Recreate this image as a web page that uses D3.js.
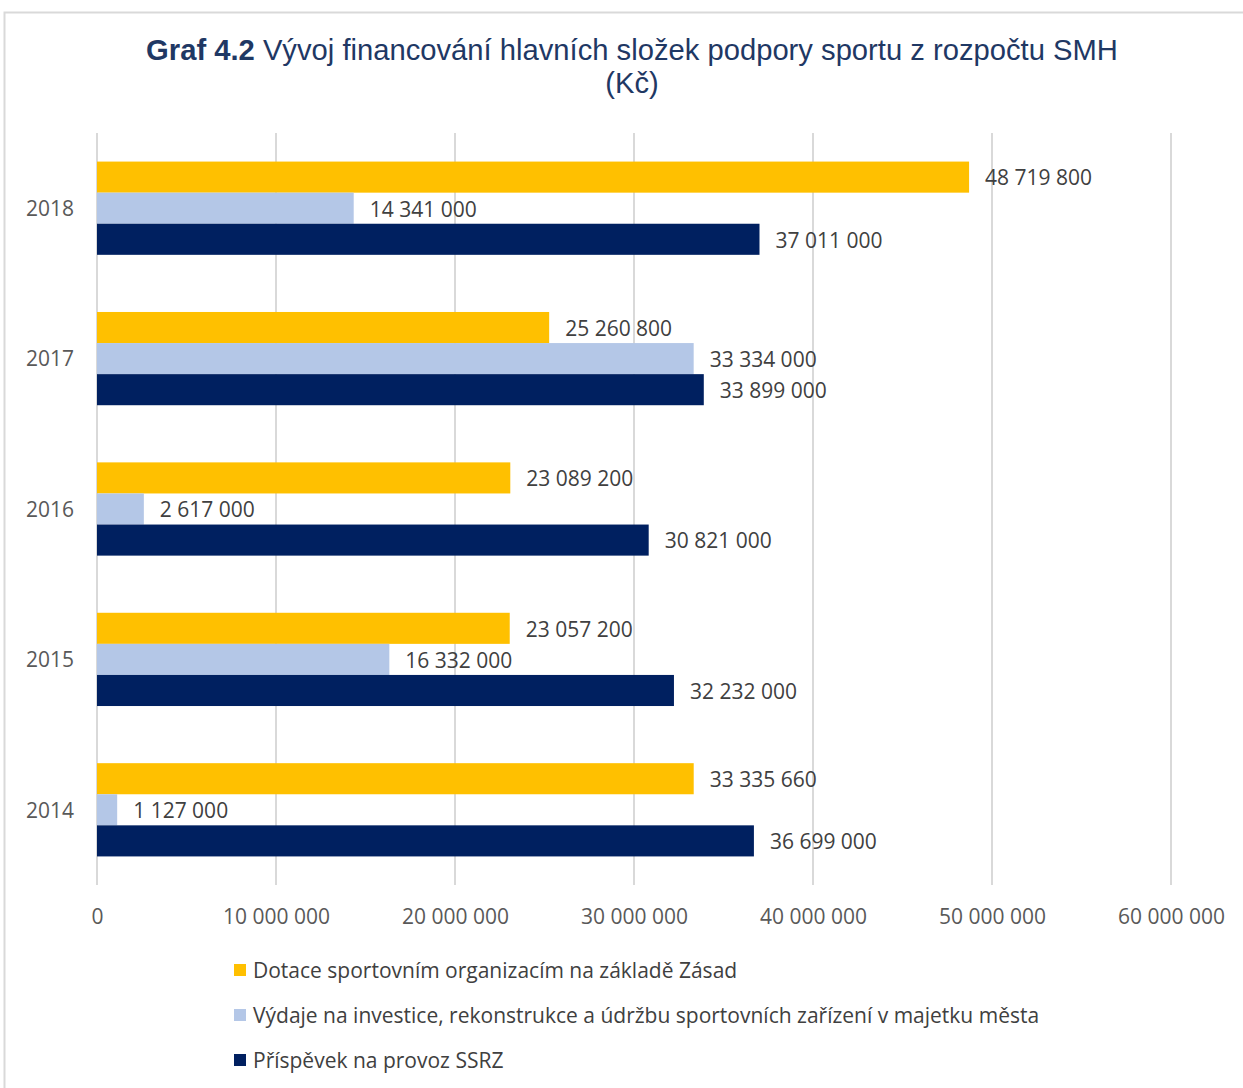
<!DOCTYPE html>
<html>
<head>
<meta charset="utf-8">
<script src="https://cdn.jsdelivr.net/npm/d3@7"></script>
<style>
  body { margin: 0; background: #fff; }
  svg { display: block; }
</style>
</head>
<body>
<div id="chart"></div>
<script>
// Données
const years = ["2018", "2017", "2016", "2015", "2014"];
const seriesNames = [
  "Dotace sportovním organizacím na základě Zásad",
  "Výdaje na investice, rekonstrukce a údržbu sportovních zařízení v majetku města",
  "Příspěvek na provoz SSRZ"
];
const dotace = [48719800, 25260800, 23089200, 23057200, 33335660];
const vydaje = [14341000, 33334000, 2617000, 16332000, 1127000];
const prispevek = [37011000, 33899000, 30821000, 32232000, 36699000];
const xTicks = [0, 10000000, 20000000, 30000000, 40000000, 50000000, 60000000];
const colors = ["#FFC000", "#B4C7E7", "#002060"];

const width = 1243;
const height = 1088;
const fontLabel = "'Open Sans', sans-serif";
const sizeLabel = "21px";

const svg = d3.select("#chart").append("svg")
  .attr("width", width)
  .attr("height", height);

// cadre
svg.append("rect")
  .attr("x", 4.5).attr("y", 12.5)
  .attr("width", width + 10).attr("height", height + 10)
  .attr("fill", "none")
  .attr("stroke", "#d9d9d9")
  .attr("stroke-width", 2);

// Titre
const title = svg.append("text")
  .attr("x", 632).attr("y", 60)
  .attr("text-anchor", "middle")
  .style("font-family", "'Liberation Sans', Arial, sans-serif")
  .style("font-size", "29.2px")
  .style("fill", "#1F3864");
title.append("tspan").style("font-weight", "bold").text("Graf 4.2");
title.append("tspan").text(" Vývoj financování hlavních složek podpory sportu z rozpočtu SMH");
svg.append("text")
  .attr("x", 632).attr("y", 93)
  .attr("text-anchor", "middle")
  .style("font-family", "'Liberation Sans', Arial, sans-serif")
  .style("font-size", "29.2px")
  .style("fill", "#1F3864")
  .text("(Kč)");

// Echelles
const x = d3.scaleLinear().domain([0, 60000000]).range([97, 1171]);
const y = d3.scaleBand().domain(years).range([133, 885]).paddingInner(0.38).paddingOuter(0.19);
const ySub = d3.scaleBand().domain([0, 1, 2]).range([0, y.bandwidth()]);

// Grille
svg.append("g")
  .selectAll("line")
  .data(xTicks)
  .join("line")
  .attr("x1", d => x(d)).attr("x2", d => x(d))
  .attr("y1", 133).attr("y2", 885)
  .attr("stroke", "#d9d9d9")
  .attr("stroke-width", 2);

const fmt = d => d3.format(",")(d).replace(/,/g, " ");

// Axe X
const xAxis = svg.append("g")
  .attr("transform", "translate(0,885)")
  .call(d3.axisBottom(x).tickValues(xTicks).tickSize(0).tickPadding(24).tickFormat(fmt));
xAxis.select(".domain").remove();
xAxis.selectAll("text")
  .style("font-family", fontLabel)
  .style("font-size", sizeLabel)
  .style("fill", "#595959");

// Axe Y
const yAxis = svg.append("g")
  .attr("transform", "translate(74,1)")
  .call(d3.axisLeft(y).tickSize(0).tickPadding(0));
yAxis.select(".domain").remove();
yAxis.selectAll("text")
  .style("font-family", fontLabel)
  .style("font-size", sizeLabel)
  .style("fill", "#595959");

// Barres
const series = [dotace, vydaje, prispevek];

series.forEach((vals, si) => {
  const g = svg.append("g");
  g.selectAll("rect")
    .data(vals)
    .join("rect")
    .attr("x", x(0))
    .attr("y", (d, i) => y(years[i]) + ySub(si))
    .attr("width", d => x(d) - x(0))
    .attr("height", ySub.bandwidth())
    .attr("fill", colors[si]);
  g.selectAll("text")
    .data(vals)
    .join("text")
    .attr("x", d => x(d) + 16)
    .attr("y", (d, i) => y(years[i]) + ySub(si) + ySub.bandwidth() / 2 + 1)
    .attr("dy", "0.35em")
    .style("font-family", fontLabel)
    .style("font-size", sizeLabel)
    .style("fill", "#404040")
    .text(fmt);
});

// Légende
const legend = svg.append("g")
  .selectAll("g")
  .data(seriesNames)
  .join("g")
  .attr("transform", (d, i) => `translate(234,${970 + i * 45})`);
legend.append("rect")
  .attr("x", 0).attr("y", -6)
  .attr("width", 12).attr("height", 12)
  .attr("fill", (d, i) => colors[i]);
legend.append("text")
  .attr("x", 19).attr("y", 1).attr("dy", "0.35em")
  .style("font-family", fontLabel)
  .style("font-size", sizeLabel)
  .style("fill", "#404040")
  .text(d => d);
</script>
</body>
</html>
